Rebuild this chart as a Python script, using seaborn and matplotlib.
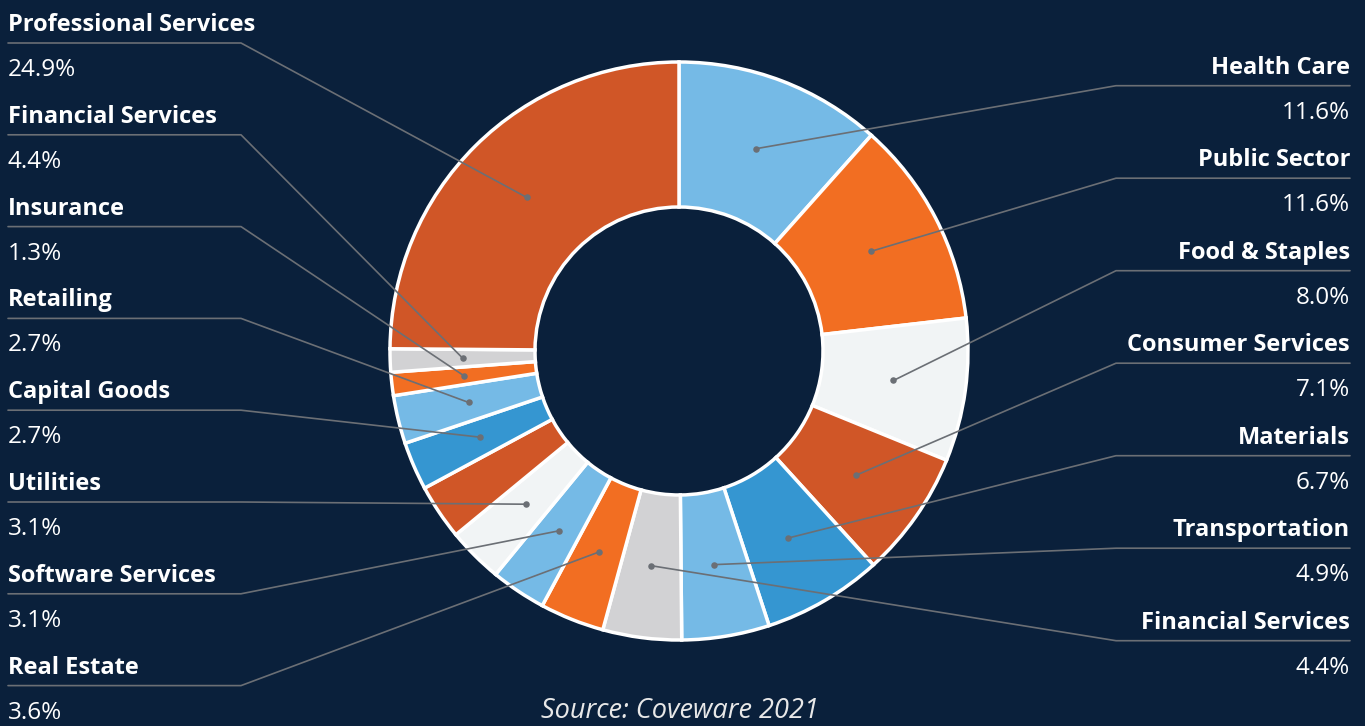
import numpy as np
import matplotlib.pyplot as plt
import seaborn as sns

# -------------------------
# Data (clockwise from 12 o'clock)
# -------------------------
sectors = ["Health Care", "Public Sector", "Food & Staples", "Consumer Services",
           "Materials", "Transportation", "Financial Services", "Real Estate",
           "Software Services", "Utilities", "", "Capital Goods", "Retailing",
           "Insurance", "Financial Services", "Professional Services"]
shares = [11.6, 11.6, 8.0, 7.1, 6.7, 4.9, 4.4, 3.6,
          3.1, 3.1, 3.1, 2.7, 2.7, 1.3, 1.3, 24.9]
pct_labels = ["11.6%", "11.6%", "8.0%", "7.1%", "6.7%", "4.9%", "4.4%", "3.6%",
              "3.1%", "3.1%", "", "2.7%", "2.7%", "1.3%", "4.4%", "24.9%"]

LB, OR, WH, DO, BL, GR = "#75BAE6", "#F26E22", "#F1F4F5", "#D05627", "#3596D1", "#D2D2D4"
slice_colors = [LB, OR, WH, DO, BL, LB, GR, OR, LB, WH, DO, BL, LB, OR, GR, DO]

BG = "#0A203B"
LINE = "#6B6F75"
N_RIGHT = 7  # first labelled slices go on the right

# -------------------------
# Style
# -------------------------
sns.set_theme(style="dark", rc={"axes.facecolor": BG, "figure.facecolor": BG})
plt.rcParams["font.family"] = ["Open Sans", "DejaVu Sans"]
palette = sns.color_palette(slice_colors)

fig = plt.figure(figsize=(13.65, 7.26), dpi=100)
ax = fig.add_axes([0, 0, 1, 1])

cx, cy, R, W = 679, 351, 289, 145
wedges, _ = ax.pie(shares, colors=palette, startangle=-90, counterclock=True,
                   radius=R, center=(cx, cy), frame=True,
                   wedgeprops=dict(width=W, edgecolor="white", linewidth=2.5))
ax.set_xlim(0, 1365)
ax.set_ylim(726, 0)
ax.set_aspect("equal")
ax.axis("off")

# -------------------------
# Labels with leader lines
# -------------------------
labelled = [i for i, s in enumerate(sectors) if s]
right_idx = labelled[:N_RIGHT]
left_idx = labelled[N_RIGHT:][::-1]

r_dot = R - W / 2
FS_NAME = 17
FS_PCT = 17.5


def dot_pos(w):
    a = np.deg2rad((w.theta1 + w.theta2) / 2)
    return cx + r_dot * np.cos(a), cy + r_dot * np.sin(a)


for k, i in enumerate(right_idx):
    ly = 85.7 + 92.5 * k
    dx, dy = dot_pos(wedges[i])
    ax.plot([dx, 1116, 1350], [dy, ly, ly], color=LINE, lw=1.2, zorder=5)
    ax.scatter([dx], [dy], s=22, color=LINE, zorder=6, linewidths=0)
    ax.text(1350, ly - 12, sectors[i], ha="right", va="baseline",
            fontsize=FS_NAME, fontweight="bold", color="white")
    ax.text(1350, ly + 33, pct_labels[i], ha="right", va="baseline",
            fontsize=FS_PCT, color="white")

for k, i in enumerate(left_idx):
    ly = 43 + 91.8 * k
    dx, dy = dot_pos(wedges[i])
    ax.plot([dx, 241, 8], [dy, ly, ly], color=LINE, lw=1.2, zorder=5)
    ax.scatter([dx], [dy], s=22, color=LINE, zorder=6, linewidths=0)
    ax.text(8, ly - 12, sectors[i], ha="left", va="baseline",
            fontsize=FS_NAME, fontweight="bold", color="white")
    ax.text(8, ly + 33, pct_labels[i], ha="left", va="baseline",
            fontsize=FS_PCT, color="white")

ax.text(680, 718, "Source: Coveware 2021", ha="center", va="baseline",
        fontsize=19.5, fontstyle="italic", color="#E8E8E8")

fig.savefig("out.png", dpi=100, facecolor=BG)
plt.close(fig)
